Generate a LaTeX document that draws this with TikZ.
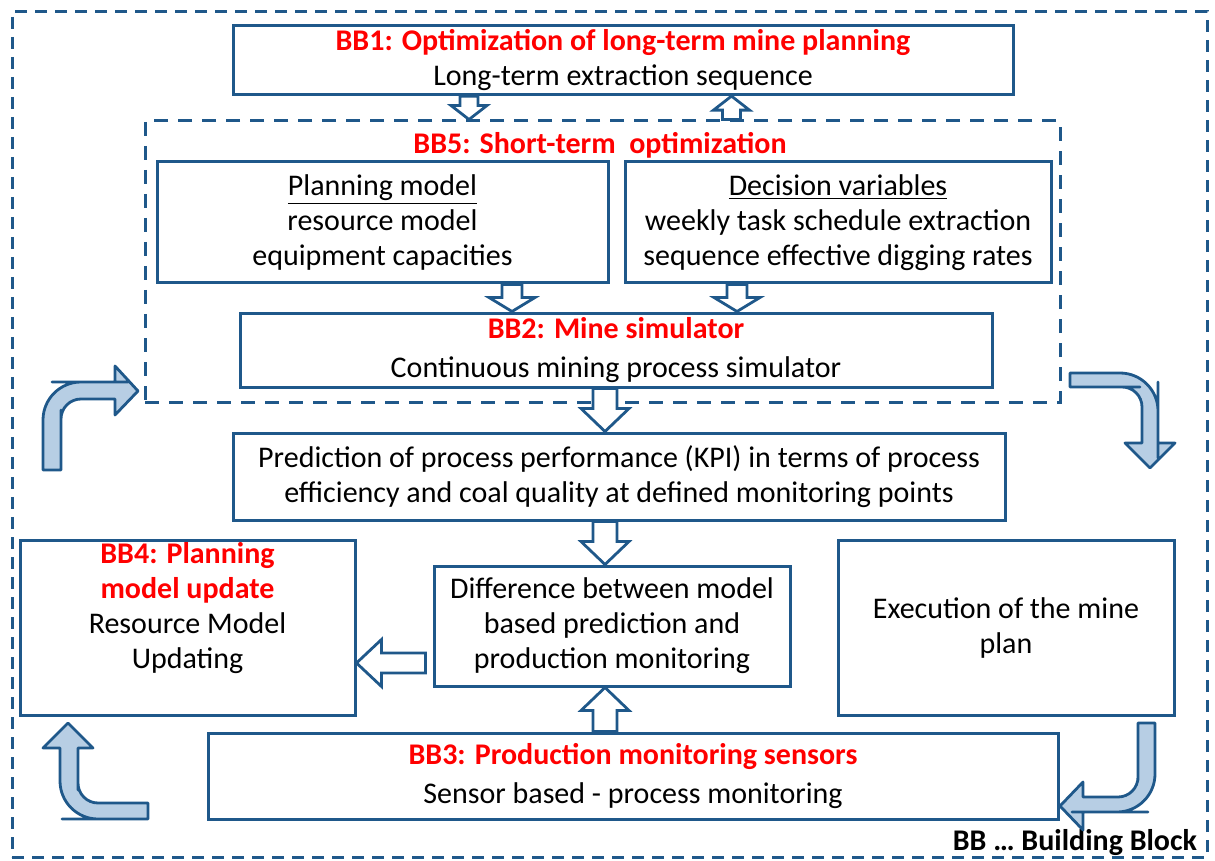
\documentclass[tikz,border=0pt]{standalone}
\usepackage{fontspec}
\setmainfont{Carlito}
\usepackage{tikz}
\usetikzlibrary{calc}
\definecolor{bbblue}{RGB}{31,88,138}
\definecolor{bbfill}{RGB}{183,206,228}
\definecolor{bbred}{RGB}{255,0,0}
\newcommand{\bbTitle}[1]{\textcolor{bbred}{\textbf{#1}}}
% hollow block arrow: from, to, shaft half width, head half width, head length
\newcommand{\tikzBlockArrowV}[5]{
  \path[blockarrow] let \p1=(#1), \p2=(#2), \n1={\y2+((\y2<\y1)*2-1)*#5} in
    (\x1-#3,\y1) -- (\x1-#3,\n1) -- (\x1-#4,\n1) -- (\x1,\y2)
    -- (\x1+#4,\n1) -- (\x1+#3,\n1) -- (\x1+#3,\y1) -- cycle;
}
\newcommand{\tikzBlockArrowH}[5]{
  \path[blockarrow] let \p1=(#1), \p2=(#2), \n1={\x2+((\x2<\x1)*2-1)*#5} in
    (\x1,\y1-#3) -- (\n1,\y1-#3) -- (\n1,\y1-#4) -- (\x2,\y1)
    -- (\n1,\y1+#4) -- (\n1,\y1+#3) -- (\x1,\y1+#3) -- cycle;
}

\begin{document}
\begin{tikzpicture}[x=0.5pt,y=-0.5pt,
  every node/.style={font=\fontsize{15}{17.5}\selectfont},
  box/.style={draw=bbblue,line width=1.5pt,fill=white,align=center,inner sep=2pt},
  dashframe/.style={draw=bbblue,line width=1.5pt,dash pattern=on 6pt off 4pt},
  blockarrow/.style={draw=bbblue,fill=white,line width=1.4pt},
  bentarrow/.style={draw=bbblue,fill=bbfill,line width=1.4pt,line join=round}]

  \useasboundingbox (0,0) rectangle (1215,861);

  \node[dashframe,minimum width=597.5pt,minimum height=422.5pt] (frame) at (609.5,434.5) {};
  \node[anchor=east,font=\fontsize{15}{17.5}\selectfont\bfseries] (legend) at (1204,843) {BB … Building Block};

  % short-term loop
  \node[dashframe,dash pattern=on 7pt off 5pt,minimum width=457.5pt,minimum height=140.5pt] (bb5) at (602.5,261.5) {};
  \node (bb5title) at (600,145) {\bbTitle{BB5: Short-term~ optimization}};

  \node[box,minimum width=390pt,minimum height=32pt] (bb1) at (623,60)
    {\bbTitle{BB1: Optimization of long-term mine planning}\\Long-term extraction sequence};
  \node[box,minimum width=225.5pt,minimum height=60.5pt] (plan) at (382.5,222.5)
    {\underline{Planning model}\\resource model\\equipment capacities};
  \node[box,minimum width=213pt,minimum height=60.5pt] (dec) at (838,222.5)
    {\underline{Decision variables}\\weekly task schedule extraction\\sequence effective digging rates};
  \node[box,minimum width=376pt,minimum height=37pt] (bb2) at (616,350)
    {\bbTitle{BB2: Mine simulator}\\[2pt]Continuous mining process simulator};

  \node[box,minimum width=386pt,minimum height=43.5pt] (kpi) at (619,476.5)
    {Prediction of process performance (KPI) in terms of process\\efficiency and coal quality at defined monitoring points};
  \node[box,minimum width=178pt,minimum height=60pt] (diff) at (612,626)
    {Difference between model\\based prediction and\\production monitoring};
  \node[box,minimum width=167.5pt,minimum height=87.5pt] (bb4) at (187.5,627.5) {};
  \node[align=center] (bb4text) at (187.5,608)
    {\bbTitle{BB4: Planning}\\\bbTitle{model update}\\Resource Model\\Updating};
  \node[box,minimum width=168pt,minimum height=87.5pt] (exec) at (1006,627.5)
    {Execution of the mine\\plan};
  \node[box,minimum width=425pt,minimum height=43pt] (bb3) at (633,776)
    {\bbTitle{BB3: Production monitoring sensors}\\[2pt]Sensor based - process monitoring};

  \tikzBlockArrowV{[xshift=-77pt]bb1.south}{bb5.north}{4.5pt}{9pt}{7pt}
  \tikzBlockArrowV{[xshift=64.5pt]bb5.north}{bb1.south}{4.5pt}{9pt}{7pt}
  \tikzBlockArrowV{[xshift=64.75pt]plan.south}{bb2.north}{5pt}{11.5pt}{7pt}
  \tikzBlockArrowV{[xshift=-50.5pt]dec.south}{bb2.north}{5pt}{11.5pt}{7pt}
  \tikzBlockArrowV{[xshift=-5.5pt]bb2.south}{kpi.north}{6pt}{12pt}{11.5pt}
  \tikzBlockArrowV{[xshift=-7pt]kpi.south}{diff.north}{6pt}{12pt}{11.5pt}
  \tikzBlockArrowV{[xshift=-14pt]bb3.north}{diff.south}{6pt}{12pt}{11.5pt}
  \tikzBlockArrowH{[xshift=-3.5pt,yshift=-18.5pt]diff.west}{bb4.east}{5pt}{11.75pt}{12.5pt}

  % bent arrows round the loop
  \path[bentarrow] (43,470) -- (43,430) [rounded corners=19pt] -- (43,382) -- (90,382) [sharp corners]
    -- (115,382) -- (115,366) -- (138,391) -- (115,415) -- (115,399) -- (90,399)
    [rounded corners=10pt] -- (61,399) -- (61,430) [sharp corners] -- (61,470) -- cycle;
  \path[bentarrow] (1070,373) -- (1120,373) [rounded corners=19pt] -- (1158,373) -- (1158,420) [sharp corners]
    -- (1158,443) -- (1175,443) -- (1150,468) -- (1125,443) -- (1142,443) -- (1142,420)
    [rounded corners=10pt] -- (1142,387) -- (1120,387) [sharp corners] -- (1070,387) -- cycle;
  \path[bentarrow] (148,803) -- (110,803) [rounded corners=10pt] -- (78,803) -- (78,770) [sharp corners]
    -- (78,748) -- (93,748) -- (68,723) -- (43,748) -- (60,748) -- (60,780)
    [rounded corners=19pt] -- (60,819) -- (100,819) [sharp corners] -- (148,819) -- cycle;
  \path[bentarrow] (1138,723) -- (1155,723) -- (1155,760) [rounded corners=19pt] -- (1155,812) -- (1110,812)
    [sharp corners] -- (1083,812) -- (1083,830) -- (1060,806) -- (1083,782) -- (1083,797) -- (1110,797)
    [rounded corners=10pt] -- (1138,797) -- (1138,760) [sharp corners] -- cycle;
\end{tikzpicture}
\end{document}
